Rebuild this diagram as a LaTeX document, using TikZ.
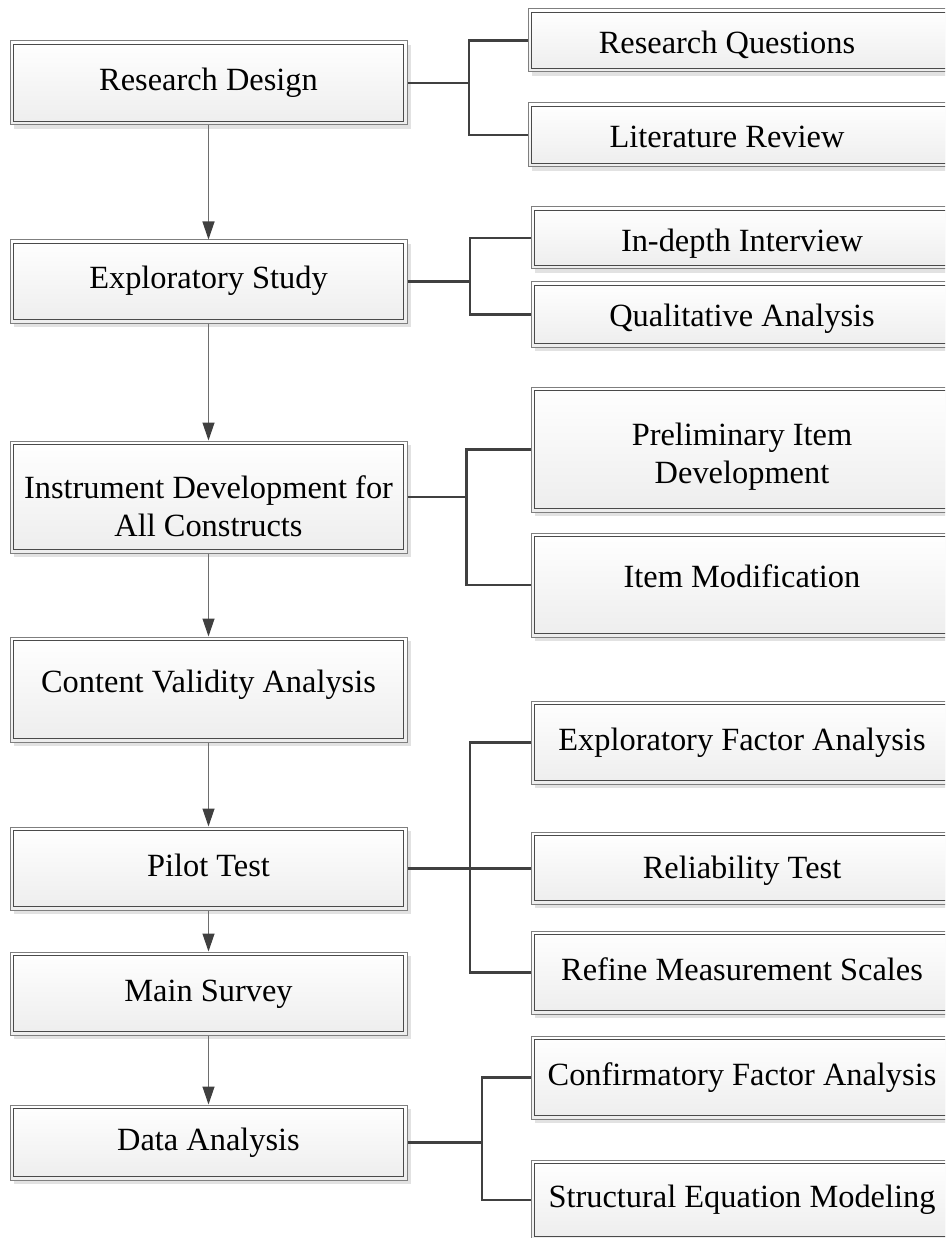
\documentclass[tikz,border=0pt]{standalone}
\usepackage{fontspec}
\setmainfont{Liberation Serif}
\usetikzlibrary{arrows.meta,shadows}
\definecolor{outerc}{HTML}{7F7F7F}
\definecolor{innerc}{HTML}{4A4A4A}
\definecolor{shadc}{HTML}{E2E2E2}
\definecolor{linec}{HTML}{404040}
\definecolor{arrc}{HTML}{6E6E6E}
\newcommand\boxfont{\fontsize{32.4}{38.5}\selectfont}
\newcommand\rtext[2]{\raisebox{#1}{#2}}
\newcommand\twolines[2]{\begin{tabular}[t]{@{}c@{}}#1\\#2\end{tabular}}
\begin{document}
\begin{tikzpicture}[x=1pt,y=-1pt,
  box/.style={draw=outerc, line width=1pt, top color=white, bottom color=black!7,
    inner sep=0pt, align=center, font=\boxfont, text height=22pt, text depth=7pt,
    drop shadow={shadow xshift=4pt, shadow yshift=-4pt, fill=shadc, opacity=1},
    path picture={\draw[draw=innerc, line width=1.1pt]
      ([xshift=3.5pt,yshift=-3.5pt]path picture bounding box.north west) rectangle
      ([xshift=-3.5pt,yshift=3.5pt]path picture bounding box.south east);}},
  lbox/.style={box, minimum width=397pt},
  rbox/.style={box, minimum width=422pt},
  tbox/.style={box, minimum width=425pt},
  arr/.style={draw=arrc, line width=1.3pt, -{Triangle[length=18pt,width=12pt,color=linec]}},
  br/.style={draw=linec, line width=2.2pt}]
\useasboundingbox (0,0) rectangle (945,1238);
\clip (0,0) rectangle (945,1238);

% left column
\node[lbox, minimum height=84pt]  (rd) at (208.5,83)    {Research Design};
\node[lbox, minimum height=83pt]  (es) at (208.5,281.5) {Exploratory Study};
\node[lbox, minimum height=112pt] (id) at (208.5,497)   {\rtext{6.5pt}{\twolines{Instrument Development for}{All Constructs}}};
\node[lbox, minimum height=105pt] (cv) at (208.5,689.5) {\rtext{4.3pt}{Content Validity Analysis}};
\node[lbox, minimum height=83pt]  (pt) at (208.5,868.5) {Pilot Test};
\node[lbox, minimum height=83pt]  (ms) at (208.5,993.5) {Main Survey};
\node[lbox, minimum height=75pt]  (da) at (208.5,1142.5) {Data Analysis};

% right column
\node[tbox, minimum height=63pt]  (rq)  at (740.5,40.5) {\rtext{-5.5pt}{\hspace*{-27pt}Research Questions}};
\node[tbox, minimum height=64pt]  (lr)  at (740.5,135)  {\rtext{-5.5pt}{\hspace*{-27pt}Literature Review}};
\node[rbox, minimum height=62pt]  (ii)  at (742,238)    {\rtext{-6pt}{In-depth Interview}};
\node[rbox, minimum height=65pt]  (qa)  at (742,314.5)  {\rtext{-4.5pt}{Qualitative Analysis}};
\node[rbox, minimum height=125pt] (pi)  at (742,449.5)  {\rtext{12pt}{\twolines{Preliminary Item}{Development}}};
\node[rbox, minimum height=104pt] (im)  at (742,585)    {\rtext{5pt}{Item Modification}};
\node[rbox, minimum height=83pt]  (efa) at (742,742.5)  {Exploratory Factor Analysis};
\node[rbox, minimum height=72pt]  (rt)  at (742,868)    {\rtext{-2.7pt}{Reliability Test}};
\node[rbox, minimum height=83pt]  (rms) at (742,972.5)  {Refine Measurement Scales};
\node[rbox, minimum height=83pt]  (cfa) at (742,1077.5) {Confirmatory Factor Analysis};
\node[rbox, minimum height=80pt]  (sem) at (742,1200)   {Structural Equation Modeling};

% vertical arrows
\draw[arr] (rd) -- (es);
\draw[arr] (es) -- (id);
\draw[arr] (id) -- (cv);
\draw[arr] (cv) -- (pt);
\draw[arr] (pt) -- (ms);
\draw[arr] (ms) -- (da);

% branches
\coordinate (b1) at (469,83);
\coordinate (b2) at (470,281.5);
\coordinate (b3) at (466.5,497);
\coordinate (b4) at (470,868.5);
\coordinate (b5) at (482,1142.5);

\draw[br] (rd.east) -- (b1) |- (rq.west);
\draw[br] (b1) |- (lr.west);
\draw[br] (es.east) -- (b2) |- (ii.west);
\draw[br] (b2) |- (qa.west);
\draw[br] (id.east) -- (b3) |- (pi.west);
\draw[br] (b3) |- (im.west);
\draw[br] (pt.east) -- (pt.east -| rt.west);
\draw[br] (b4) |- (efa.west);
\draw[br] (b4) |- (rms.west);
\draw[br] (da.east) -- (b5) |- (cfa.west);
\draw[br] (b5) |- (sem.west);
\end{tikzpicture}
\end{document}
